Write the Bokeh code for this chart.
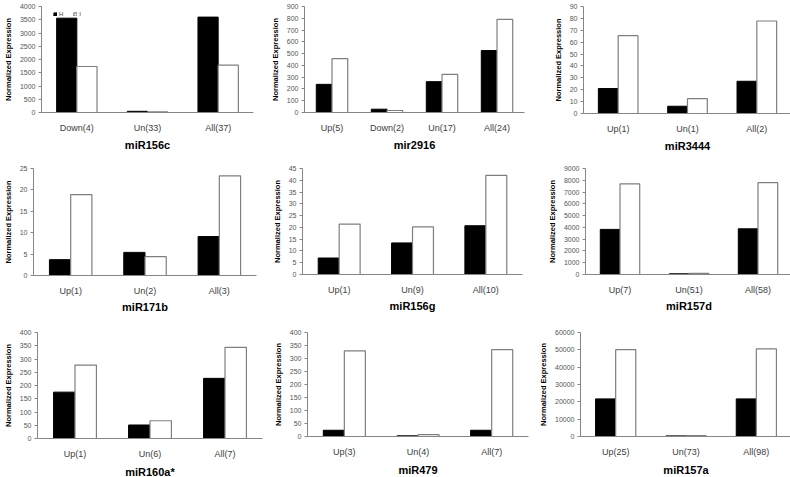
from bokeh.plotting import figure
from bokeh.layouts import column, row
from bokeh.models import (FactorRange, Range1d, FixedTicker, Legend, LegendItem,
                          ColumnDataSource, NumeralTickFormatter)
from bokeh.transform import dodge
from bokeh.embed import file_html
from bokeh.resources import INLINE

# ---------------- data ----------------
titles = ["miR156c", "mir2916", "miR3444",
          "miR171b", "miR156g", "miR157d",
          "miR160a*", "miR479", "miR157a"]

cats_156c = ["Down(4)", "Un(33)", "All(37)"]
h_156c = [3560, 45, 3600]
i_156c = [1735, 22, 1785]
ticks_156c = [0, 500, 1000, 1500, 2000, 2500, 3000, 3500, 4000]

cats_2916 = ["Up(5)", "Down(2)", "Un(17)", "All(24)"]
h_2916 = [239, 28, 262, 526]
i_2916 = [458, 17, 323, 790]
ticks_2916 = [0, 100, 200, 300, 400, 500, 600, 700, 800, 900]

cats_3444 = ["Up(1)", "Un(1)", "All(2)"]
h_3444 = [21, 6.1, 27.1]
i_3444 = [65.5, 12.5, 77.8]
ticks_3444 = [0, 10, 20, 30, 40, 50, 60, 70, 80, 90]

cats_171b = ["Up(1)", "Un(2)", "All(3)"]
h_171b = [3.7, 5.4, 9.1]
i_171b = [18.9, 4.4, 23.3]
ticks_171b = [0, 5, 10, 15, 20, 25]

cats_156g = ["Up(1)", "Un(9)", "All(10)"]
h_156g = [7.0, 13.4, 20.7]
i_156g = [21.4, 20.2, 42.1]
ticks_156g = [0, 5, 10, 15, 20, 25, 30, 35, 40, 45]

cats_157d = ["Up(7)", "Un(51)", "All(58)"]
h_157d = [3830, 60, 3880]
i_157d = [7690, 100, 7800]
ticks_157d = [0, 1000, 2000, 3000, 4000, 5000, 6000, 7000, 8000, 9000]

cats_160a = ["Up(1)", "Un(6)", "All(7)"]
h_160a = [175, 51, 227]
i_160a = [277, 67, 344]
ticks_160a = [0, 50, 100, 150, 200, 250, 300, 350, 400]

cats_479 = ["Up(3)", "Un(4)", "All(7)"]
h_479 = [24, 2.5, 24]
i_479 = [329, 7, 334]
ticks_479 = [0, 50, 100, 150, 200, 250, 300, 350, 400]

cats_157a = ["Up(25)", "Un(73)", "All(98)"]
h_157a = [21700, 350, 21700]
i_157a = [50100, 500, 50500]
ticks_157a = [0, 10000, 20000, 30000, 40000, 50000, 60000]

series_names = ["H", "I"]

panels = [
    (cats_156c, h_156c, i_156c, ticks_156c),
    (cats_2916, h_2916, i_2916, ticks_2916),
    (cats_3444, h_3444, i_3444, ticks_3444),
    (cats_171b, h_171b, i_171b, ticks_171b),
    (cats_156g, h_156g, i_156g, ticks_156g),
    (cats_157d, h_157d, i_157d, ticks_157d),
    (cats_160a, h_160a, i_160a, ticks_160a),
    (cats_479, h_479, i_479, ticks_479),
    (cats_157a, h_157a, i_157a, ticks_157a),
]

# ---------------- layout geometry ----------------
col_edges = [0, 265, 525, 790]
row_edges = [0, 155, 316, 477]
# plot frames (left, top, right, bottom) in page pixels
frames = [
    (39, 6, 251, 112), (298, 6, 518, 112), (577, 5, 785, 112),
    (29, 168, 252, 275), (297, 168, 517, 274), (580, 168, 787, 274),
    (32, 330, 257, 436), (301, 332, 522, 436), (574, 331, 785, 435),
]
title_standoff = [3, 2, 4]   # per row

FONT = "Liberation Sans"
AXIS_COL = "#868686"
BAR_W = 1 / 3.5

figs = []
for k, (cats, hv, iv, ticks) in enumerate(panels):
    r, c = divmod(k, 3)
    L, T, R, B = frames[k]
    x0, y0 = col_edges[c], row_edges[r]
    W = col_edges[c + 1] - x0
    H = row_edges[r + 1] - y0
    l, rr, t, b = L - x0, R - x0, T - y0, B - y0
    fh = b - t

    p = figure(x_range=FactorRange(*cats, range_padding=0),
               y_range=Range1d(0, ticks[-1]),
               frame_width=rr - l, frame_height=fh,
               min_border_left=l, min_border_right=W - rr,
               min_border_top=t, min_border_bottom=H - b,
               output_backend="svg", toolbar_location=None, tools="")
    p.outline_line_color = None
    p.xgrid.grid_line_color = None
    p.ygrid.grid_line_color = None
    p.background_fill_color = "white"
    p.border_fill_color = "white"

    src = ColumnDataSource(dict(cat=cats, h=hv, i=iv))
    rh = p.vbar(x=dodge("cat", -BAR_W / 2, range=p.x_range), top="h", width=BAR_W,
                source=src, fill_color="black", line_color="black", line_width=1)
    ri = p.vbar(x=dodge("cat", BAR_W / 2, range=p.x_range), top="i", width=BAR_W,
                source=src, fill_color="white", line_color="#7f7f7f", line_width=1.2)

    xa = p.xaxis[0]
    xa.axis_line_color = AXIS_COL
    xa.major_tick_line_color = None
    xa.minor_tick_line_color = None
    xa.major_tick_out = 0
    xa.major_label_standoff = 10
    xa.major_label_text_font = FONT
    xa.major_label_text_font_size = "9px"
    xa.major_label_text_line_height = 1.0
    xa.major_label_text_color = "#404040"
    # panel title sits below the category labels
    xa.axis_label = titles[k]
    xa.axis_label_standoff = title_standoff[r]
    xa.axis_label_text_font = FONT
    xa.axis_label_text_font_size = "11px"
    xa.axis_label_text_line_height = 1.0
    xa.axis_label_text_font_style = "bold"
    xa.axis_label_text_color = "black"

    ya = p.yaxis[0]
    ya.ticker = FixedTicker(ticks=ticks)
    ya.formatter = NumeralTickFormatter(format="0")
    ya.axis_line_color = AXIS_COL
    ya.major_tick_line_color = AXIS_COL
    ya.minor_tick_line_color = None
    ya.major_tick_out = 3
    ya.major_tick_in = 0
    ya.major_label_standoff = 3
    ya.major_label_text_font = FONT
    ya.major_label_text_font_size = "7px"
    ya.major_label_text_color = "#555555"
    ya.axis_label = "Normalized Expression"
    ya.axis_label_text_font = FONT
    ya.axis_label_text_font_size = "7.5px"
    ya.axis_label_text_font_style = "bold"
    ya.axis_label_text_color = "black"
    ya.axis_label_standoff = 4

    if k == 0:
        leg = Legend(items=[LegendItem(label=series_names[0], renderers=[rh]),
                            LegendItem(label=series_names[1], renderers=[ri])],
                     orientation="horizontal", location=(12, 95),
                     glyph_width=4, glyph_height=4, label_width=4, label_height=6,
                     label_standoff=2, spacing=10, padding=0, margin=0,
                     label_text_font=FONT, label_text_font_size="6px",
                     label_text_color="#404040",
                     border_line_color=None, background_fill_alpha=0)
        p.add_layout(leg)
    figs.append(p)

layout = column(row(*figs[0:3], spacing=0), row(*figs[3:6], spacing=0),
                row(*figs[6:9], spacing=0), spacing=0)

open("out.html", "w").write(file_html(layout, INLINE))
